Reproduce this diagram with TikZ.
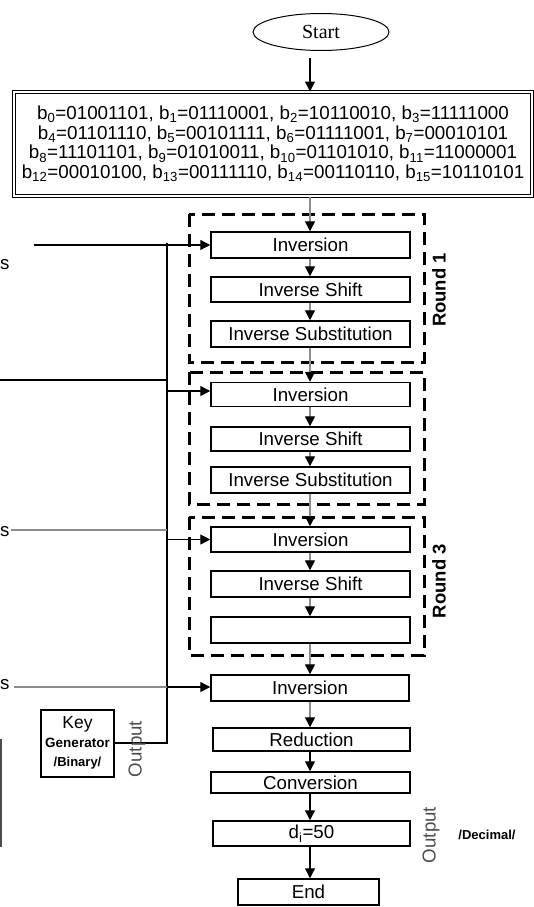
\documentclass[tikz,border=0pt]{standalone}
\usepackage{fontspec}
\setmainfont{Liberation Sans}
\usetikzlibrary{arrows.meta,shapes.geometric}
\definecolor{lineg}{gray}{0.55}
\definecolor{outg}{gray}{0.3}
\begin{document}
\begin{tikzpicture}[x=1pt,y=-1pt,
  every node/.style={font=\fontsize{18.7}{20}\selectfont, inner sep=0pt},
  stepbox/.style={draw, line width=1.5pt, minimum width=199pt, minimum height=25pt},
  roundframe/.style={draw, line width=3pt, dash pattern=on 13pt off 7pt},
  tip/.style={-{Triangle[width=10pt,length=10pt,color=black]}},
  flowb/.style={draw=black, line width=1.2pt, tip},
  flowg/.style={draw=lineg, line width=1.4pt, tip},
  wireb/.style={draw=black, line width=1.4pt},
  wireg/.style={draw=lineg, line width=1.4pt},
  roundlabel/.style={rotate=90, font=\bfseries\fontsize{18.5}{20}\selectfont},
  outlabel/.style={rotate=90, text=outg},
  smalllabel/.style={font=\bfseries\fontsize{13}{14}\selectfont}
]
\useasboundingbox (0,0) rectangle (533,907);
\coordinate (spine) at (310,0);

% start and data
\node[draw, ellipse, line width=1pt, minimum width=136pt, minimum height=37pt,
      font=\fontspec{Liberation Serif}\fontsize{20}{21}\selectfont] (start) at (321,32) {Start};
\node[draw, double, double distance=1.2pt, line width=1pt, minimum width=518pt, minimum height=104pt,
      align=center, font=\fontsize{18.8}{19.7}\selectfont] (data) at (273,144)
 {b\textsubscript{0}=01001101, b\textsubscript{1}=01110001, b\textsubscript{2}=10110010, b\textsubscript{3}=11111000\\
  b\textsubscript{4}=01101110, b\textsubscript{5}=00101111, b\textsubscript{6}=01111001, b\textsubscript{7}=00010101\\
  b\textsubscript{8}=11101101, b\textsubscript{9}=01010011, b\textsubscript{10}=01101010, b\textsubscript{11}=11000001\\
  b\textsubscript{12}=00010100, b\textsubscript{13}=00111110, b\textsubscript{14}=00110110, b\textsubscript{15}=10110101};

% round frames
\draw[roundframe] (189,214) rectangle (424,362);
\draw[roundframe] (189,372) rectangle (424,504);
\draw[roundframe] (189,517) rectangle (424,655);
\node[roundlabel] (r1) at (439,290) {Round 1};
\node[roundlabel] (r3) at (439,581) {Round 3};

% steps
\node[stepbox, minimum height=26pt] (inv1) at (310.5,245) {Inversion};
\node[stepbox] (shift1) at (310.5,289.5) {Inverse Shift};
\node[stepbox, minimum height=26pt] (sub1) at (310.5,334) {Inverse Substitution};
\node[stepbox, minimum height=24pt] (inv2) at (310.5,394.5) {Inversion};
\node[stepbox, minimum height=24pt] (shift2) at (310.5,439) {Inverse Shift};
\node[stepbox, minimum height=26pt] (sub2) at (310.5,480) {Inverse Substitution};
\node[stepbox] (inv3) at (310.5,539.5) {Inversion};
\node[stepbox, minimum height=26pt] (shift3) at (310.5,584) {Inverse Shift};
\node[stepbox, minimum height=26pt] (empty3) at (310.5,630) {};
\node[stepbox, minimum width=198pt, minimum height=26pt] (inv4) at (310,688) {Inversion};
\node[stepbox, minimum width=197pt, minimum height=23pt] (red) at (311.5,739.5) {Reduction};
\node[stepbox, minimum height=21pt] (conv) at (310.5,782.5) {Conversion};
\node[stepbox, minimum width=197pt, minimum height=25pt] (dval) at (311.5,833.5) {d\textsubscript{i}=50};
\node[stepbox, minimum width=141pt, minimum height=26pt] (endn) at (308.5,892) {End};

% spine
\draw[flowb, shorten <=7pt] (start.south -| spine) -- (data.north -| spine);
\draw[flowg] (data.south -| spine) -- (inv1.north -| spine);
\draw[flowg] (inv1.south -| spine) -- (shift1.north -| spine);
\draw[flowg] (shift1.south -| spine) -- (sub1.north -| spine);
\draw[flowg] (sub1.south -| spine) -- (inv2.north -| spine);
\draw[flowg] (inv2.south -| spine) -- (shift2.north -| spine);
\draw[flowg] (shift2.south -| spine) -- (sub2.north -| spine);
\draw[flowg] (sub2.south -| spine) -- (inv3.north -| spine);
\draw[flowg] (inv3.south -| spine) -- (shift3.north -| spine);
\draw[flowg] (shift3.south -| spine) -- (empty3.north -| spine);
\draw[flowg] (empty3.south -| spine) -- (inv4.north -| spine);
\draw[flowg] (inv4.south -| spine) -- (red.north -| spine);
\draw[flowb] (red.south -| spine) -- (conv.north -| spine);
\draw[flowb] (conv.south -| spine) -- (dval.north -| spine);
\draw[flowb] (dval.south -| spine) -- (endn.north -| spine);

% key generator
\node[draw, line width=1.5pt, minimum width=73pt, minimum height=67pt] (key) at (77.5,743.5) {};
\node[font=\fontsize{17.5}{18}\selectfont] (keyt) at (77.5,724) {Key};
\node[font=\bfseries\fontsize{13.5}{14}\selectfont] (keyg) at (77.5,743) {Generator};
\node[smalllabel] (keyb) at (77.5,763) {/Binary/};
\coordinate (kb) at (167,743);
\coordinate (kt) at (167,243);
\draw[wireb] (key.east |- kb) -- (kb) -- (kt);
\node[outlabel] (out1) at (137,749) {Output};

% inputs from the left
\node[anchor=west] (s1) at (0,265) {s};
\node[anchor=west] (s3) at (0,532) {s};
\node[anchor=west] (s4) at (0,685) {s};
\coordinate (l1) at (34,245);
\draw[flowb] (l1) -- (inv1.west);
\coordinate (l2) at (0,380);
\draw[wireb] (l2) -- (l2 -| kb);
\coordinate (k2) at (167,391);
\draw[flowb] (k2) -- (k2 -| inv2.west);
\coordinate (l3) at (11,530);
\draw[wireg] (l3) -- (l3 -| kb);
\coordinate (k3) at (167,539.5);
\draw[flowb] (k3) -- (k3 -| inv3.west);
\coordinate (l4) at (14,687);
\draw[wireg] (l4) -- (kb |- l4);
\draw[flowb] (kb |- l4) -- (l4 -| inv4.west);

% cut-off box edge at the left
\coordinate (e1) at (1,739);
\coordinate (e2) at (1,847);
\draw[draw=outg, line width=1.2pt] (e1) -- (e2);

% output decimal
\node[outlabel] (out2) at (431,835) {Output};
\node[smalllabel] (dec) at (487,835) {/Decimal/};
\end{tikzpicture}
\end{document}
